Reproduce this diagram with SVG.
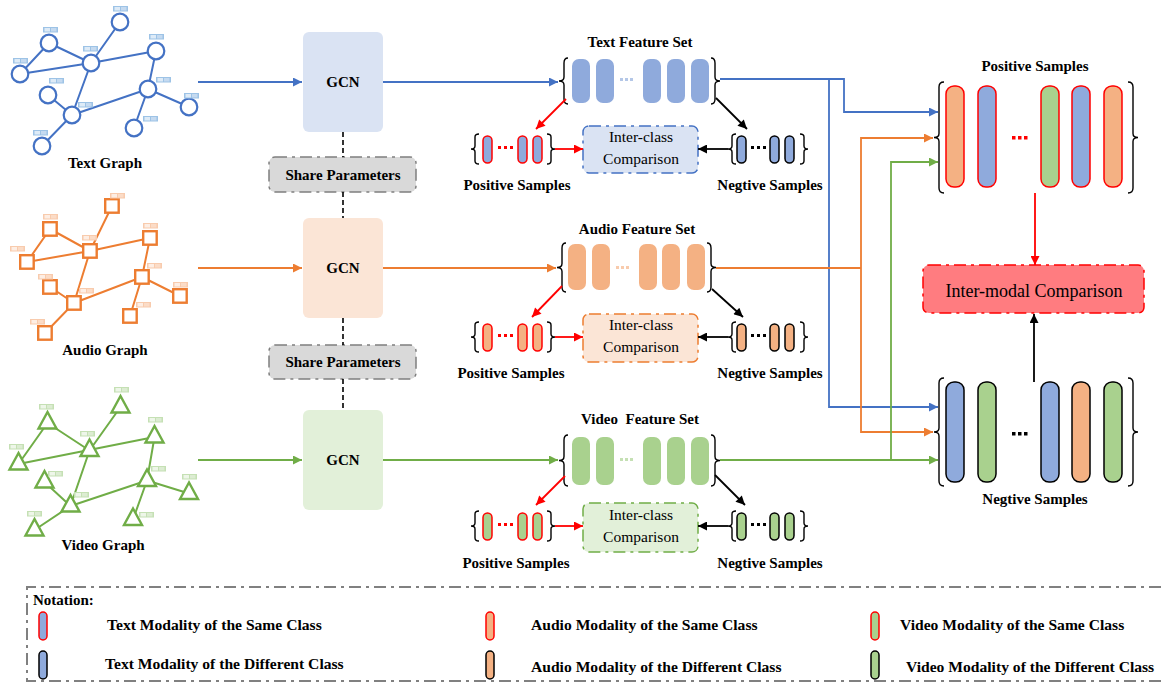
<svg xmlns="http://www.w3.org/2000/svg" xmlns:xlink="http://www.w3.org/1999/xlink" width="1161" height="687" viewBox="0 0 1161 687">
<style>
text{font-family:"Liberation Serif","Times New Roman",serif;fill:#000}
.b{font-weight:bold;font-size:15px}
.nt{font-weight:bold;font-size:15.6px}
.r{font-size:15.5px}
.c{text-anchor:middle}
.brace{fill:none;stroke:#000;stroke-width:1.4}
.eb{stroke:#4472c4;stroke-width:2;fill:none}
.eo{stroke:#ed7d31;stroke-width:2;fill:none}
.eg{stroke:#70ad47;stroke-width:2;fill:none}
.nb{fill:#fff;stroke:#4472c4;stroke-width:2.2}
.no{fill:#fff;stroke:#ed7d31;stroke-width:2.4}
.ng{fill:#fff;stroke:#70ad47;stroke-width:2.4}
.cb{stroke:#4472c4;stroke-width:1.8;fill:none}
.co{stroke:#ed7d31;stroke-width:1.8;fill:none}
.cg{stroke:#70ad47;stroke-width:1.8;fill:none}
.cr{stroke:#ff0000;stroke-width:1.8;fill:none}
.ck{stroke:#000;stroke-width:1.8;fill:none}
.fb{fill:#8faadc}.fo{fill:#f4b183}.fg{fill:#a9d18e}
.ps{stroke:#ff0000;stroke-width:1.5}
.ns{stroke:#000;stroke-width:1.5}
.dd{stroke-dasharray:12 5 3 5}
</style>
<defs>
<marker id="mb" viewBox="0 0 10 10" refX="10" refY="5" markerWidth="12" markerHeight="9" markerUnits="userSpaceOnUse" orient="auto"><path d="M0,0L10,5L0,10z" fill="#4472c4"/></marker>
<marker id="mo" viewBox="0 0 10 10" refX="10" refY="5" markerWidth="12" markerHeight="9" markerUnits="userSpaceOnUse" orient="auto"><path d="M0,0L10,5L0,10z" fill="#ed7d31"/></marker>
<marker id="mg" viewBox="0 0 10 10" refX="10" refY="5" markerWidth="12" markerHeight="9" markerUnits="userSpaceOnUse" orient="auto"><path d="M0,0L10,5L0,10z" fill="#70ad47"/></marker>
<marker id="mr" viewBox="0 0 10 10" refX="10" refY="5" markerWidth="12" markerHeight="9" markerUnits="userSpaceOnUse" orient="auto"><path d="M0,0L10,5L0,10z" fill="#ff0000"/></marker>
<marker id="mk" viewBox="0 0 10 10" refX="10" refY="5" markerWidth="12" markerHeight="9" markerUnits="userSpaceOnUse" orient="auto"><path d="M0,0L10,5L0,10z" fill="#000"/></marker>
<g id="lbB"><rect width="15" height="5.5" fill="#9dc3e6"/><rect x="1.5" y="1" width="5.5" height="3.5" fill="#deebf7"/><rect x="8" y="1" width="5.5" height="3.5" fill="#c5daf0"/></g>
<g id="lbO"><rect width="15" height="5.5" fill="#f8cbad"/><rect x="1.5" y="1" width="5.5" height="3.5" fill="#fdeee4"/><rect x="8" y="1" width="5.5" height="3.5" fill="#fbdcc7"/></g>
<g id="lbG"><rect width="15" height="5.5" fill="#c5e0b4"/><rect x="1.5" y="1" width="5.5" height="3.5" fill="#eef6e9"/><rect x="8" y="1" width="5.5" height="3.5" fill="#dcecd2"/></g>
</defs>

<!-- Text graph -->
<g id="text-graph">
<path class="eb" d="M49,43L20,74M49,43L91,63M91,63L120,22M91,63L20,74M91,63L156,51M91,63L72,115M156,51L148,89M148,89L72,115M148,89L189,107M148,89L134,128M48,95L72,115M72,115L42,146"/>
<circle class="nb" cx="120" cy="22" r="8.3"/><circle class="nb" cx="49" cy="43" r="8.3"/><circle class="nb" cx="91" cy="63" r="8.3"/><circle class="nb" cx="156" cy="51" r="8.3"/><circle class="nb" cx="20" cy="74" r="8.3"/><circle class="nb" cx="48" cy="95" r="8.3"/><circle class="nb" cx="148" cy="89" r="8.3"/><circle class="nb" cx="72" cy="115" r="8.3"/><circle class="nb" cx="189" cy="107" r="8.3"/><circle class="nb" cx="134" cy="128" r="8.3"/><circle class="nb" cx="42" cy="146" r="8.3"/>
<use xlink:href="#lbB" x="113" y="6"/><use xlink:href="#lbB" x="43" y="27"/><use xlink:href="#lbB" x="83" y="46"/><use xlink:href="#lbB" x="149" y="34"/><use xlink:href="#lbB" x="13" y="58"/><use xlink:href="#lbB" x="49" y="78"/><use xlink:href="#lbB" x="156" y="77"/><use xlink:href="#lbB" x="78" y="102"/><use xlink:href="#lbB" x="184" y="93"/><use xlink:href="#lbB" x="143" y="116"/><use xlink:href="#lbB" x="33" y="130"/>
<text class="b c" x="105" y="168">Text Graph</text>
</g>

<!-- Audio graph -->
<g id="audio-graph">
<path class="eo" d="M50,229L27,262M50,229L90,251M90,251L112,206M90,251L27,262M90,251L150,238M90,251L74,303M150,238L142,277M142,277L74,303M142,277L180,296M142,277L130,316M50,287L74,303M74,303L45,333"/>
<g class="no">
<rect x="105.2" y="199.2" width="13.5" height="13.5"/><rect x="43.2" y="222.2" width="13.5" height="13.5"/><rect x="83.2" y="244.2" width="13.5" height="13.5"/><rect x="143.2" y="231.2" width="13.5" height="13.5"/><rect x="20.2" y="255.2" width="13.5" height="13.5"/><rect x="43.2" y="280.2" width="13.5" height="13.5"/><rect x="135.2" y="270.2" width="13.5" height="13.5"/><rect x="67.2" y="296.2" width="13.5" height="13.5"/><rect x="173.2" y="289.2" width="13.5" height="13.5"/><rect x="123.2" y="309.2" width="13.5" height="13.5"/><rect x="38.2" y="326.2" width="13.5" height="13.5"/>
</g>
<use xlink:href="#lbO" x="110" y="193"/><use xlink:href="#lbO" x="43" y="214"/><use xlink:href="#lbO" x="82" y="235"/><use xlink:href="#lbO" x="143" y="223"/><use xlink:href="#lbO" x="10" y="246"/><use xlink:href="#lbO" x="38" y="274"/><use xlink:href="#lbO" x="147" y="263"/><use xlink:href="#lbO" x="79" y="288"/><use xlink:href="#lbO" x="173" y="282"/><use xlink:href="#lbO" x="136" y="302"/><use xlink:href="#lbO" x="30" y="319"/>
<text class="b c" x="105" y="355">Audio Graph</text>
</g>

<!-- Video graph -->
<g id="video-graph">
<path class="eg" d="M47.5,423L18.5,464M47.5,423L89.5,450.5M89.5,450.5L120.5,407M18.5,464L154.5,437M89.5,450.5L70.5,506M154.5,437L147,480.5M147,480.5L70.5,506M147,480.5L189,493.5M147,480.5L133,519.5M44.5,482L70.5,506M70.5,506L34.5,530"/>
<g class="ng">
<path d="M120.5,396l-9,16.5h18z"/><path d="M47.5,412l-9,16.5h18z"/><path d="M89.5,439.5l-9,16.5h18z"/><path d="M154.5,426l-9,16.5h18z"/><path d="M18.5,453l-9,16.5h18z"/><path d="M44.5,471l-9,16.5h18z"/><path d="M147,469.5l-9,16.5h18z"/><path d="M70.5,495l-9,16.5h18z"/><path d="M189,482.5l-9,16.5h18z"/><path d="M133,508.5l-9,16.5h18z"/><path d="M34.5,519l-9,16.5h18z"/>
</g>
<use xlink:href="#lbG" x="114" y="387"/><use xlink:href="#lbG" x="39" y="404"/><use xlink:href="#lbG" x="80" y="431"/><use xlink:href="#lbG" x="148" y="417"/><use xlink:href="#lbG" x="9" y="444"/><use xlink:href="#lbG" x="48" y="471"/><use xlink:href="#lbG" x="151" y="466"/><use xlink:href="#lbG" x="74" y="492"/><use xlink:href="#lbG" x="182" y="474"/><use xlink:href="#lbG" x="139" y="512"/><use xlink:href="#lbG" x="27" y="511"/>
<text class="b c" x="103" y="550">Video Graph</text>
</g>

<!-- GCN and share parameters -->
<g id="gcn-text"><rect x="303" y="32" width="80" height="100" rx="6" fill="#dae3f3"/><text class="b c" x="343" y="87">GCN</text></g>
<g id="gcn-audio"><rect x="303" y="218" width="80" height="100" rx="6" fill="#fbe5d6"/><text class="b c" x="343" y="273">GCN</text></g>
<g id="gcn-video"><rect x="303" y="410" width="80" height="100" rx="6" fill="#e2f0d9"/><text class="b c" x="343" y="465">GCN</text></g>
<g id="share-1"><rect x="269" y="157" width="147" height="35" rx="6" fill="#d9d9d9" stroke="#7f7f7f" stroke-width="1.5" class="dd"/><text class="b c" x="343" y="180">Share Parameters</text></g>
<g id="share-2"><rect x="269" y="345" width="147" height="34" rx="6" fill="#d9d9d9" stroke="#7f7f7f" stroke-width="1.5" class="dd"/><text class="b c" x="343" y="367">Share Parameters</text></g>

<!-- Feature sets -->
<g id="text-feature-set">
<text class="b c" x="640" y="47">Text Feature Set</text>
<path class="brace" d="M568,58 Q564,58 564,63 V77 Q564,81 559,81 Q564,81 564,85 V99 Q564,104 568,104"/>
<path class="brace" d="M711,58 Q715,58 715,63 V77 Q715,81 720,81 Q715,81 715,85 V99 Q715,104 711,104"/>
<g class="fb"><rect x="572" y="59" width="18" height="44" rx="7"/><rect x="596" y="59" width="18" height="44" rx="7"/><rect x="643" y="59" width="18" height="44" rx="7"/><rect x="667" y="59" width="18" height="44" rx="7"/><rect x="691" y="59" width="18" height="44" rx="7"/></g>
<g fill="#b4c7e7"><rect x="620" y="78" width="3" height="3"/><rect x="625" y="78" width="3" height="3"/><rect x="630" y="78" width="3" height="3"/></g>
</g>
<g id="audio-feature-set">
<text class="b c" x="637" y="234">Audio Feature Set</text>
<path class="brace" d="M566,243 Q562,243 562,248 V263.5 Q562,267.5 557,267.5 Q562,267.5 562,271.5 V287 Q562,292 566,292"/>
<path class="brace" d="M707,243 Q711,243 711,248 V263.5 Q711,267.5 716,267.5 Q711,267.5 711,271.5 V287 Q711,292 707,292"/>
<g class="fo"><rect x="568" y="244" width="18" height="46" rx="7"/><rect x="592" y="244" width="18" height="46" rx="7"/><rect x="639" y="244" width="18" height="46" rx="7"/><rect x="662" y="244" width="18" height="46" rx="7"/><rect x="687" y="244" width="18" height="46" rx="7"/></g>
<g fill="#f8cbad"><rect x="616" y="266" width="3" height="3"/><rect x="621" y="266" width="3" height="3"/><rect x="626" y="266" width="3" height="3"/></g>
</g>
<g id="video-feature-set">
<text class="b c" x="640" y="424" xml:space="preserve">Video  Feature Set</text>
<path class="brace" d="M568,435 Q564,435 564,440 V456.5 Q564,460.5 559,460.5 Q564,460.5 564,464.5 V481 Q564,486 568,486"/>
<path class="brace" d="M711,435 Q715,435 715,440 V456.5 Q715,460.5 720,460.5 Q715,460.5 715,464.5 V481 Q715,486 711,486"/>
<g class="fg"><rect x="572" y="437" width="18" height="48" rx="7"/><rect x="596" y="437" width="18" height="48" rx="7"/><rect x="643" y="437" width="18" height="48" rx="7"/><rect x="667" y="437" width="18" height="48" rx="7"/><rect x="691" y="437" width="18" height="48" rx="7"/></g>
<g fill="#c5e0b4"><rect x="620" y="458" width="3" height="3"/><rect x="625" y="458" width="3" height="3"/><rect x="630" y="458" width="3" height="3"/></g>
</g>

<!-- Intra-modal sample groups -->
<g id="text-samples">
<path class="brace" d="M479,134 Q475,134 475,137 V146 Q475,149 471,149 Q475,149 475,152 V161 Q475,164 479,164"/>
<path class="brace" d="M547,134 Q551,134 551,137 V146 Q551,149 555,149 Q551,149 551,152 V161 Q551,164 547,164"/>
<g class="fb ps"><rect x="483" y="136" width="9" height="27" rx="4.5"/><rect x="518" y="136" width="9" height="27" rx="4.5"/><rect x="533" y="136" width="9" height="27" rx="4.5"/></g>
<g fill="#ff0000"><rect x="498" y="146" width="3" height="3"/><rect x="504" y="146" width="3" height="3"/><rect x="510" y="146" width="3" height="3"/></g>
<path class="brace" d="M736,134 Q732,134 732,137 V146 Q732,149 728,149 Q732,149 732,152 V161 Q732,164 736,164"/>
<path class="brace" d="M800,134 Q804,134 804,137 V146 Q804,149 808,149 Q804,149 804,152 V161 Q804,164 800,164"/>
<g class="fb ns"><rect x="737" y="136" width="9" height="27" rx="4.5"/><rect x="770" y="136" width="9" height="27" rx="4.5"/><rect x="785" y="136" width="9" height="27" rx="4.5"/></g>
<g fill="#000"><rect x="751" y="146" width="3" height="3"/><rect x="757" y="146" width="3" height="3"/><rect x="763" y="146" width="3" height="3"/></g>
<rect x="583" y="126" width="115" height="47" rx="6" fill="#dae3f3" stroke="#4472c4" stroke-width="1.5" class="dd"/>
<text class="r c" x="641" y="142">Inter-class</text><text class="r c" x="641" y="164">Comparison</text>
<text class="b c" x="517" y="190">Positive Samples</text><text class="b c" x="770" y="190">Negtive Samples</text>
</g>
<g id="audio-samples" transform="translate(0,188)">
<path class="brace" d="M479,134 Q475,134 475,137 V146 Q475,149 471,149 Q475,149 475,152 V161 Q475,164 479,164"/>
<path class="brace" d="M547,134 Q551,134 551,137 V146 Q551,149 555,149 Q551,149 551,152 V161 Q551,164 547,164"/>
<g class="fo ps"><rect x="483" y="136" width="9" height="27" rx="4.5"/><rect x="518" y="136" width="9" height="27" rx="4.5"/><rect x="533" y="136" width="9" height="27" rx="4.5"/></g>
<g fill="#ff0000"><rect x="498" y="146" width="3" height="3"/><rect x="504" y="146" width="3" height="3"/><rect x="510" y="146" width="3" height="3"/></g>
<path class="brace" d="M736,134 Q732,134 732,137 V146 Q732,149 728,149 Q732,149 732,152 V161 Q732,164 736,164"/>
<path class="brace" d="M800,134 Q804,134 804,137 V146 Q804,149 808,149 Q804,149 804,152 V161 Q804,164 800,164"/>
<g class="fo ns"><rect x="737" y="136" width="9" height="27" rx="4.5"/><rect x="770" y="136" width="9" height="27" rx="4.5"/><rect x="785" y="136" width="9" height="27" rx="4.5"/></g>
<g fill="#000"><rect x="751" y="146" width="3" height="3"/><rect x="757" y="146" width="3" height="3"/><rect x="763" y="146" width="3" height="3"/></g>
<rect x="583" y="126" width="115" height="48" rx="6" fill="#fbe5d6" stroke="#ed7d31" stroke-width="1.5" class="dd"/>
<text class="r c" x="641" y="142">Inter-class</text><text class="r c" x="641" y="164">Comparison</text>
<text class="b c" x="511" y="190">Positive Samples</text><text class="b c" x="770" y="190">Negtive Samples</text>
</g>
<g id="video-samples" transform="translate(0,377)">
<path class="brace" d="M479,134 Q475,134 475,137 V146 Q475,149 471,149 Q475,149 475,152 V161 Q475,164 479,164"/>
<path class="brace" d="M547,134 Q551,134 551,137 V146 Q551,149 555,149 Q551,149 551,152 V161 Q551,164 547,164"/>
<g class="fg ps"><rect x="483" y="136" width="9" height="27" rx="4.5"/><rect x="518" y="136" width="9" height="27" rx="4.5"/><rect x="533" y="136" width="9" height="27" rx="4.5"/></g>
<g fill="#ff0000"><rect x="498" y="146" width="3" height="3"/><rect x="504" y="146" width="3" height="3"/><rect x="510" y="146" width="3" height="3"/></g>
<path class="brace" d="M736,134 Q732,134 732,137 V146 Q732,149 728,149 Q732,149 732,152 V161 Q732,164 736,164"/>
<path class="brace" d="M800,134 Q804,134 804,137 V146 Q804,149 808,149 Q804,149 804,152 V161 Q804,164 800,164"/>
<g class="fg ns"><rect x="737" y="136" width="9" height="27" rx="4.5"/><rect x="770" y="136" width="9" height="27" rx="4.5"/><rect x="785" y="136" width="9" height="27" rx="4.5"/></g>
<g fill="#000"><rect x="751" y="146" width="3" height="3"/><rect x="757" y="146" width="3" height="3"/><rect x="763" y="146" width="3" height="3"/></g>
<rect x="583" y="126" width="115" height="49" rx="6" fill="#e2f0d9" stroke="#70ad47" stroke-width="1.5" class="dd"/>
<text class="r c" x="641" y="143">Inter-class</text><text class="r c" x="641" y="165">Comparison</text>
<text class="b c" x="516" y="191">Positive Samples</text><text class="b c" x="770" y="191">Negtive Samples</text>
</g>

<!-- Inter-modal samples -->
<g id="pos-samples">
<text class="b c" x="1035" y="71">Positive Samples</text>
<path class="brace" d="M944,82 Q939,82 939,87 V133.5 Q939,137.5 934,137.5 Q939,137.5 939,141.5 V188 Q939,193 944,193"/>
<path class="brace" d="M1128,82 Q1133,82 1133,87 V133.5 Q1133,137.5 1138,137.5 Q1133,137.5 1133,141.5 V188 Q1133,193 1128,193"/>
<rect class="fo ps" x="946" y="86" width="18" height="101" rx="8"/><rect class="fb ps" x="978" y="86" width="18" height="101" rx="8"/><rect class="fg ps" x="1041" y="86" width="18" height="101" rx="8"/><rect class="fb ps" x="1072" y="86" width="18" height="101" rx="8"/><rect class="fo ps" x="1104" y="86" width="18" height="101" rx="8"/>
<g fill="#ff0000"><rect x="1012" y="136" width="3.5" height="3.5"/><rect x="1018" y="136" width="3.5" height="3.5"/><rect x="1024" y="136" width="3.5" height="3.5"/></g>
</g>
<g id="neg-samples">
<path class="brace" d="M944,378 Q939,378 939,383 V428 Q939,432 934,432 Q939,432 939,436 V481 Q939,486 944,486"/>
<path class="brace" d="M1128,378 Q1133,378 1133,383 V428 Q1133,432 1138,432 Q1133,432 1133,436 V481 Q1133,486 1128,486"/>
<rect class="fb ns" x="946" y="382" width="18" height="100" rx="8"/><rect class="fg ns" x="978" y="382" width="18" height="100" rx="8"/><rect class="fb ns" x="1041" y="382" width="18" height="100" rx="8"/><rect class="fo ns" x="1072" y="382" width="18" height="100" rx="8"/><rect class="fg ns" x="1104" y="382" width="18" height="100" rx="8"/>
<g fill="#000"><rect x="1012" y="432" width="3.5" height="3.5"/><rect x="1018" y="432" width="3.5" height="3.5"/><rect x="1024" y="432" width="3.5" height="3.5"/></g>
<text class="b c" x="1035" y="504">Negtive Samples</text>
</g>
<g id="inter-modal">
<rect x="923" y="265" width="221" height="48" rx="6" fill="#ff7c80" stroke="#ff0000" stroke-width="1.5" class="dd"/>
<text x="1034" y="297" class="c" font-size="18">Inter-modal Comparison</text>
</g>

<!-- Connectors -->
<g id="connectors">
<path d="M343,132V157M343,192V218M343,318V345M343,379V410" stroke="#000" stroke-width="1.6" stroke-dasharray="5 3" fill="none"/>
<path class="cb" d="M198,82H302" marker-end="url(#mb)"/>
<path class="cb" d="M383,82H558" marker-end="url(#mb)"/>
<path class="cb" d="M720,79H844V112H938" marker-end="url(#mb)"/>
<path class="cb" d="M829,79V407H938" marker-end="url(#mb)"/>
<path class="co" d="M198,268H302" marker-end="url(#mo)"/>
<path class="co" d="M383,268H556" marker-end="url(#mo)"/>
<path class="co" d="M716,268H861"/>
<path class="co" d="M861,268V138H933" marker-end="url(#mo)"/>
<path class="co" d="M861,268V432H933" marker-end="url(#mo)"/>
<path class="cg" d="M198,460H302" marker-end="url(#mg)"/>
<path class="cg" d="M383,460H558" marker-end="url(#mg)"/>
<path class="cg" d="M720,460H938" marker-end="url(#mg)"/>
<path class="cg" d="M891,460V162H938" marker-end="url(#mg)"/>
<path class="cr" d="M566,99L536,129" marker-end="url(#mr)"/>
<path class="cr" d="M562,286L532,317" marker-end="url(#mr)"/>
<path class="cr" d="M565,476L536,505" marker-end="url(#mr)"/>
<path class="ck" d="M716,98L747,129" marker-end="url(#mk)"/>
<path class="ck" d="M712,289L743,317" marker-end="url(#mk)"/>
<path class="ck" d="M715,475L745,505" marker-end="url(#mk)"/>
<path class="cr" d="M555,149H583" marker-end="url(#mr)"/>
<path class="cr" d="M555,337H583" marker-end="url(#mr)"/>
<path class="cr" d="M555,526H583" marker-end="url(#mr)"/>
<path class="ck" d="M728,149H698" marker-end="url(#mk)"/>
<path class="ck" d="M728,337H698" marker-end="url(#mk)"/>
<path class="ck" d="M728,526H698" marker-end="url(#mk)"/>
<path class="cr" d="M1035,193V265" marker-end="url(#mr)"/>
<path class="ck" d="M1034,382V314" marker-end="url(#mk)"/>
</g>

<!-- Notation -->
<g id="notation">
<path d="M1161,587H27V681H1161" fill="none" stroke="#808080" stroke-width="2" class="dd"/>
<text class="b" x="33" y="605">Notation:</text>
<rect class="fb ps" x="39" y="612" width="8" height="28" rx="4"/>
<text class="nt" x="107" y="630">Text Modality of the Same Class</text>
<rect class="fb ns" x="39" y="651" width="8" height="28" rx="4"/>
<text class="nt" x="105" y="669">Text Modality of the Different Class</text>
<rect class="fo ps" x="486" y="612" width="8" height="28" rx="4"/>
<text class="nt" x="531" y="630">Audio Modality of the Same Class</text>
<rect class="fo ns" x="486" y="651" width="8" height="28" rx="4"/>
<text class="nt" x="531" y="672">Audio Modality of the Different Class</text>
<rect class="fg ps" x="871" y="612" width="8" height="28" rx="4"/>
<text class="nt" x="900" y="630">Video Modality of the Same Class</text>
<rect class="fg ns" x="871" y="651" width="8" height="28" rx="4"/>
<text class="nt" x="906" y="672">Video Modality of the Different Class</text>
</g>
</svg>
